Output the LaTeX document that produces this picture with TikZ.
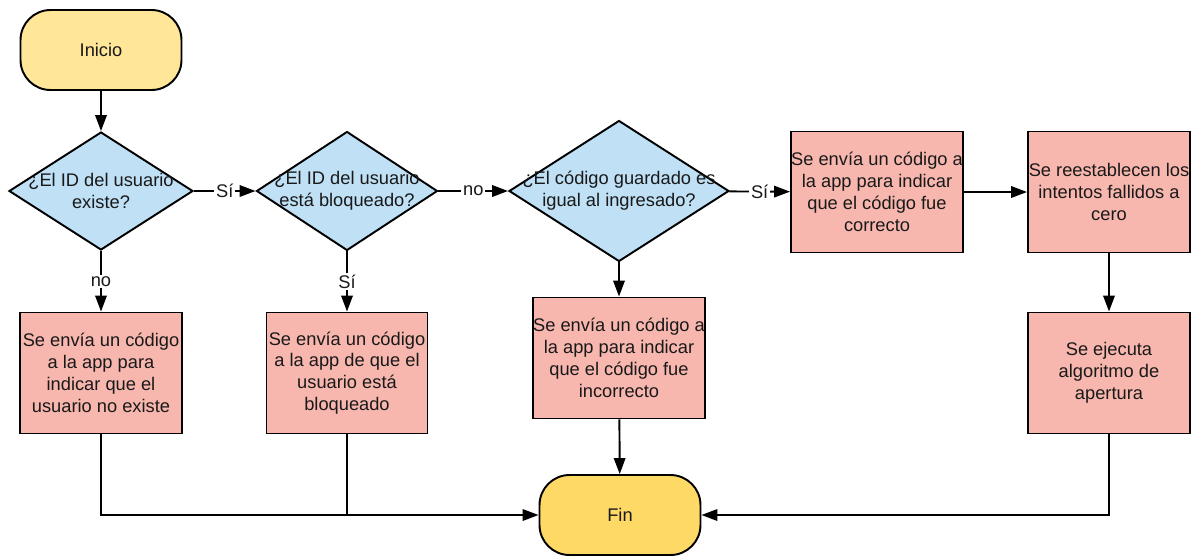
\documentclass[tikz,border=0pt]{standalone}
\usepackage{fontspec}
\setsansfont{Liberation Sans}
\usetikzlibrary{arrows.meta,shapes.geometric}
\definecolor{startyellow}{RGB}{255,230,153}
\definecolor{endyellow}{RGB}{255,217,102}
\definecolor{askblue}{RGB}{191,224,245}
\definecolor{procpink}{RGB}{247,183,174}
\begin{document}
\begin{tikzpicture}[
   x=0.02cm,y=-0.02cm,
   font=\sffamily\fontsize{10.4}{12.4}\selectfont,
   text=black!90,
   terminal/.style={draw,line width=1.1pt,rounded corners=0.6cm,minimum width=3.22cm,minimum height=1.6cm},
   decision/.style={draw,diamond,line width=1.1pt,fill=askblue,inner sep=0pt},
   qtext/.style={align=center,inner sep=0pt},
   proc/.style={draw,line width=1.1pt,fill=procpink,minimum height=2.42cm,align=center,inner sep=0pt},
   to/.style={-{Triangle[length=0.32cm,width=0.23cm]},line width=1.1pt},
   link/.style={line width=1.1pt},
   lbl/.style={fill=white,inner sep=1pt}]
\useasboundingbox[fill=white] (0,0) rectangle (1191,556);
% start and end
\node[terminal,fill=startyellow] (start) at (101,50) {Inicio};
\node[terminal,fill=endyellow] (fin) at (620,515) {Fin};
% questions
\node[decision,minimum width=3.68cm,minimum height=2.36cm] (q1) at (101,191) {};
\node[qtext] (q1t) at (q1) {¿El ID del usuario\\existe?};
\node[decision,minimum width=3.62cm,minimum height=2.38cm] (q2) at (347,191) {};
\node[qtext] (q2t) at (q2) {¿El ID del usuario\\está bloqueado?};
\node[decision,minimum width=4.4cm,minimum height=2.82cm] (q3) at (619,191) {};
\node[qtext] (q3t) at (q3) {¿El código guardado es\\igual al ingresado?};
% actions
\node[proc,minimum width=3.44cm] (right) at (877,192) {Se envía un código a\\la app para indicar\\que el código fue\\correcto};
\node[proc,minimum width=3.24cm] (reset) at (1109,192) {Se reestablecen los\\intentos fallidos a\\cero};
\node[proc,minimum width=3.24cm] (opening) at (1109,373) {Se ejecuta\\algoritmo de\\apertura};
\node[proc,minimum width=3.24cm] (nouser) at (101,373) {Se envía un código\\a la app para\\indicar que el\\usuario no existe};
\node[proc,minimum width=3.22cm] (blocked) at (347,373) {Se envía un código\\a la app de que el\\usuario está\\bloqueado};
\node[proc,minimum width=3.44cm] (wrong) at (619,358) {Se envía un código a\\la app para indicar\\que el código fue\\incorrecto};
% connectors
\draw[to] (start) -- (q1);
\draw[to] (q1) -- node[lbl] {Sí} (q2);
\draw[to] (q2) -- node[lbl] {no} (q3);
\draw[to] (q3) -- node[lbl] {Sí} (right);
\draw[to] (q1) -- node[lbl] {no} (nouser);
\draw[to] (q2) -- node[lbl] {Sí} (blocked);
\draw[to] (q3) -- (wrong);
\draw[to] (right) -- (reset);
\draw[to] (reset) -- (opening);
\draw[to] (wrong) -- (fin);
\draw[to] (nouser.south) |- (fin.west);
\draw[link] (blocked.south) -- (blocked.south |- fin.west);
\draw[to] (opening.south) |- (fin.east);
\end{tikzpicture}
\end{document}
